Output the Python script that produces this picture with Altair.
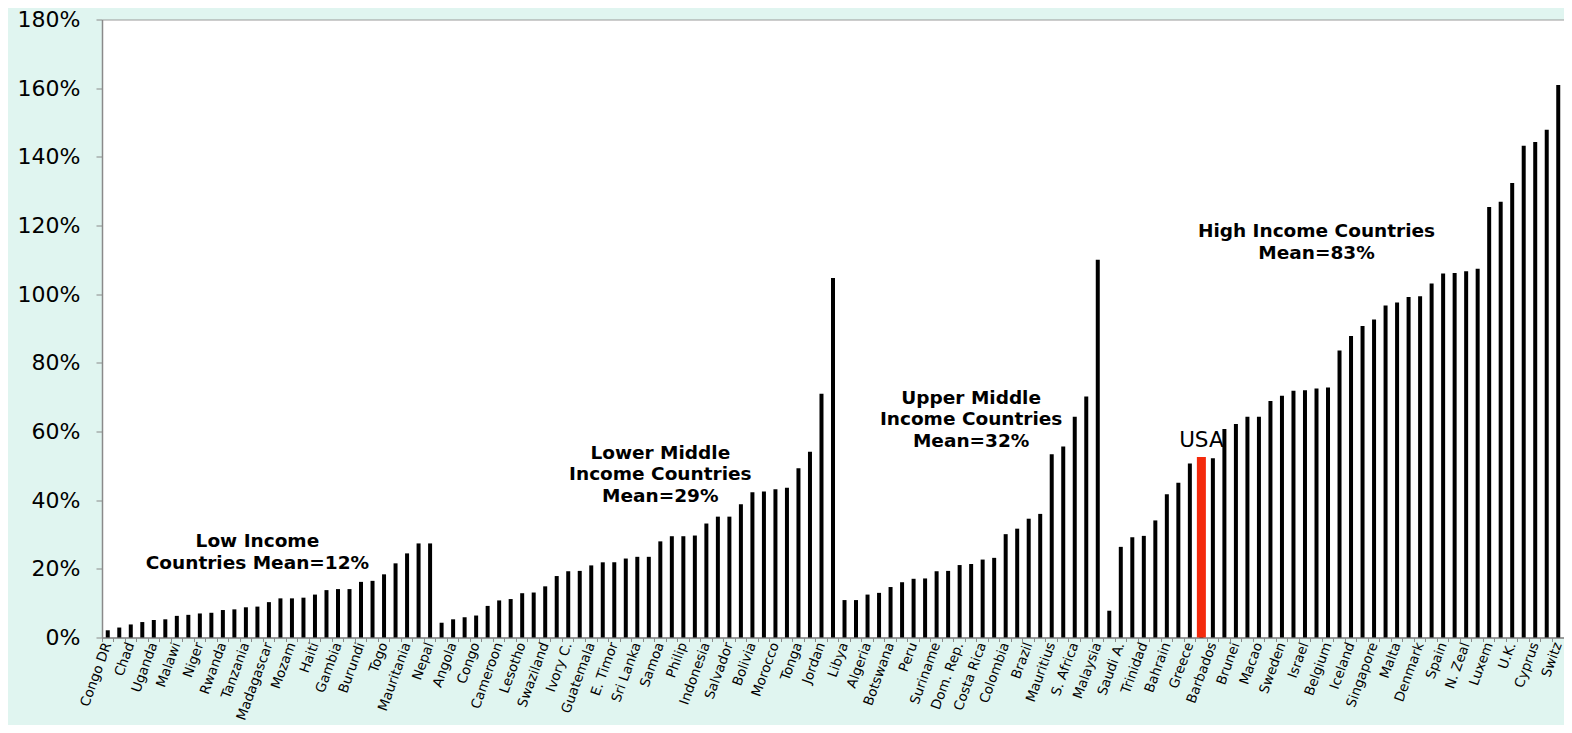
import altair as alt
import pandas as pd

# Labels shown under every other bar (odd bar positions 1, 3, 5, ...)
label_names = [
    "Congo DR", "Chad", "Uganda", "Malawi", "Niger", "Rwanda", "Tanzania",
    "Madagascar", "Mozam", "Haiti", "Gambia", "Burundi", "Togo", "Mauritania",
    "Nepal", "Angola", "Congo", "Cameroon", "Lesotho", "Swaziland", "Ivory C.",
    "Guatemala", "E. Timor", "Sri Lanka", "Samoa", "Philip", "Indonesia",
    "Salvador", "Bolivia", "Morocco", "Tonga", "Jordan", "Libya", "Algeria",
    "Botswana", "Peru", "Suriname", "Dom. Rep.", "Costa Rica", "Colombia",
    "Brazil", "Mauritius", "S. Africa", "Malaysia", "Saudi A.", "Trinidad",
    "Bahrain", "Greece", "Barbados", "Brunei", "Macao", "Sweden", "Israel",
    "Belgium", "Iceland", "Singapore", "Malta", "Denmark", "Spain", "N. Zeal",
    "Luxem", "U.K.", "Cyprus", "Switz",
]

# Bar values (%), all 127 bars in order
low_income = [2.1, 2.9, 3.8, 4.5, 5.1, 5.3, 6.3, 6.6, 7.0, 7.2, 8.0, 8.2, 8.8, 9.0,
              10.3, 11.4, 11.4, 11.6, 12.5, 13.8, 14.1, 14.1, 16.2, 16.5, 18.4,
              21.6, 24.5, 27.4, 27.4]
lower_middle = [4.3, 5.3, 5.9, 6.4, 9.2, 10.8, 11.2, 12.9, 13.1, 14.9, 17.9, 19.3,
                19.4, 21.0, 21.9, 21.9, 23.0, 23.5, 23.5, 28.0, 29.5, 29.5, 29.7,
                33.2, 35.2, 35.2, 38.8, 42.3, 42.5, 43.2, 43.6, 49.3, 54.1, 71.0,
                104.7]
upper_middle = [10.9, 10.9, 12.5, 13.0, 14.7, 16.1, 17.1, 17.2, 19.3, 19.4, 21.1,
                21.4, 22.7, 23.2, 30.1, 31.7, 34.6, 36.0, 53.4, 55.6, 64.3, 70.2,
                110.0, 7.8]
high_income = [26.4, 29.2, 29.6, 34.1, 41.7, 45.1, 50.7, 52.6, 52.2, 60.7, 62.2,
               64.3, 64.3, 68.9, 70.4, 71.9, 72.0, 72.5, 72.8, 83.6, 87.8, 90.7,
               92.6, 96.7, 97.6, 99.2, 99.4, 103.1, 106.0, 106.2, 106.7, 107.4,
               125.4, 126.9, 132.4, 143.2, 144.3, 147.9, 160.9]
values = low_income + lower_middle + upper_middle + high_income
USA_POS = 95  # zero-based position of the USA bar

y_ticks = list(range(0, 181, 20))

ann_texts = ["Low Income\nCountries Mean=12%",
             "Lower Middle\nIncome Countries\nMean=29%",
             "Upper Middle\nIncome Countries\nMean=32%",
             "High Income Countries\nMean=83%"]
ann_pos = [13, 48, 75, 105]
ann_y = [30.6, 56.5, 72.4, 120.9]


def cat_name(i):
    if i == USA_POS:
        return "#USA"
    if i % 2 == 0:
        return label_names[i // 2]
    return f"#{i}"


cats = [cat_name(i) for i in range(len(values))]
df = pd.DataFrame({"cat": cats, "val": values})
ann = pd.DataFrame({"cat": [cat_name(p) for p in ann_pos], "val": ann_y, "txt": ann_texts})
usa = pd.DataFrame({"cat": ["#USA"], "val": [values[USA_POS]], "txt": ["USA"]})

xscale = alt.Scale(domain=cats, paddingInner=0, paddingOuter=0)
yscale = alt.Scale(domain=[0, 180], nice=False)
FONT = "DejaVu Sans"

yaxis = alt.Axis(values=y_ticks, labelExpr="datum.value + '%'",
                 labelFont=FONT, labelFontSize=22, labelColor="black",
                 tickSize=6, tickColor="#8a8a8a", labelPadding=16,
                 domainColor="#8a8a8a", domainWidth=1.5, grid=False, orient="left")
yenc = alt.Y("val:Q", scale=yscale, title=None, axis=yaxis)

bars = alt.Chart(df).mark_bar(size=4, color="black").encode(
    x=alt.X("cat:N", scale=xscale, sort=None, title=None,
            axis=alt.Axis(bandPosition=0, labels=False, ticks=True, tickSize=4,
                          tickColor="#8a8a8a", domainColor="#8a8a8a",
                          domainWidth=1.5, grid=False, orient="bottom")),
    y=yenc,
)

usa_bar = alt.Chart(df).transform_filter(alt.datum.cat == "#USA").mark_bar(
    size=9, color="#F42A0C").encode(
    x=alt.X("cat:N", scale=xscale, sort=None, title=None,
            axis=alt.Axis(domain=False, ticks=False, labelAngle=-70,
                          labelAlign="right", labelBaseline="middle",
                          labelFont=FONT, labelFontSize=13.5, labelColor="black",
                          labelPadding=5, labelOverlap=False, grid=False,
                          orient="bottom",
                          labelExpr="indexof(datum.label, '#') == 0 ? '' : datum.label")),
    y=yenc,
)

ann_layer = alt.Chart(ann).mark_text(
    font=FONT, fontSize=18.5, fontWeight="bold", color="black", align="center",
    baseline="top", lineBreak="\n", lineHeight=21.5).encode(
    x=alt.X("cat:N", scale=xscale, sort=None, axis=None),
    y=yenc,
    text="txt:N",
)

usa_text = alt.Chart(usa).mark_text(
    font=FONT, fontSize=21.5, color="black", align="center",
    baseline="alphabetic", dy=-10).encode(
    x=alt.X("cat:N", scale=xscale, sort=None, axis=None),
    y=yenc,
    text="txt:N",
)

chart = alt.layer(bars, usa_bar, ann_layer, usa_text).resolve_axis(
    x="independent"
).properties(
    width=1462, height=618,
    autosize=alt.AutoSizeParams(type="none"),
    padding={"left": 94, "top": 11.5, "right": 0, "bottom": 87.5},
    background="#E0F5F0",
).configure_view(
    fill="white", stroke="#9a9a9a", strokeWidth=1,
)

chart.save("out.html", embed_options={"renderer": "svg", "actions": False})
